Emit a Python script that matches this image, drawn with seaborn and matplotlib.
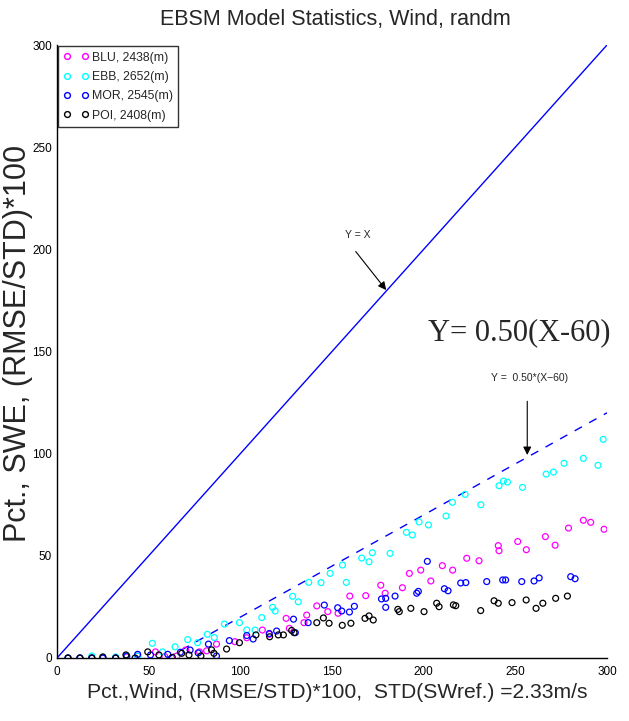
import numpy as np
import pandas as pd
import matplotlib
matplotlib.use("Agg")
import matplotlib.pyplot as plt
import seaborn as sns
from matplotlib.lines import Line2D

# ---------------- data ----------------
blu_x = [6, 12.5, 19, 25, 32, 38, 44, 53.7, 58.8, 65.4, 70.2, 77.7, 81.6, 87, 97, 103.5, 112, 115.8,
         125, 126.7, 134.7, 136.2, 141.7, 147.7, 153.3, 159.7, 168.4, 176.6, 179, 188.4, 192.2, 198.4,
         203.9, 210.2, 215.8, 223.5, 230.2, 240.7, 241.1, 251.3, 256, 266.4, 271.7, 279, 287.1, 291.1, 298.4]
blu_y = [0, 0, 0, 0, 0, 0.5, 1, 3, 0.7, 1, 3.9, 3, 3.5, 6.8, 8, 9.9, 13.7, 11.6,
         19.4, 14.5, 17.3, 21, 25.5, 22.7, 21.9, 30.3, 30.5, 35.6, 31.7, 34.4, 41.4, 43,
         37.7, 45.2, 43, 48.8, 47.6, 55, 52.5, 57, 53, 59.4, 55.2, 63.6, 67.4, 66.4, 63]

ebb_x = [6, 12.5, 19, 25, 32, 38, 44, 52, 57.5, 64.4, 71.3, 76.7, 82, 85.8, 91.3, 99.5, 103.5, 108,
         111.7, 117.6, 119, 128.5, 131.6, 137.3, 144, 149, 155.7, 157.8, 166.2, 170.2, 172, 181.7,
         190.6, 193.8, 197.5, 202.6, 212.2, 215.7, 222.6, 231.2, 241.1, 243.5, 245.7, 253.9, 266.8,
         270.8, 276.6, 287.1, 295.1, 297.9]
ebb_y = [0, 0, 1, 0.5, 0.5, 1, 1, 7.2, 3, 5.5, 9, 7.5, 11.6, 10, 16.6, 17.3, 13.7, 13.7,
         19.8, 24.8, 23, 30.2, 27.5, 37, 36.9, 41.4, 45.5, 37, 48.9, 47.1, 51.5, 51.2,
         61.5, 60.2, 66.6, 65.1, 69.5, 76.2, 80.1, 75, 84.3, 86.6, 86.1, 83.5, 90,
         91, 95.3, 97.7, 94.3, 107]

mor_x = [6, 12.5, 19, 25, 32, 38, 44, 51, 60.4, 67.3, 72.6, 77, 82.6, 87, 94, 103.5, 107, 115.8,
         119.8, 129, 130, 137, 145.8, 153.1, 155.3, 159.5, 162.2, 177, 179.3, 179.3, 184.4, 196.2,
         197.1, 202, 211.3, 213.3, 220.2, 223, 234.4, 243.1, 244.7, 253.5, 260.2, 263, 280.2, 282.6]
mor_y = [0, 0, 0, 0, 0, 1, 1.8, 1.5, 1.8, 2.8, 3.9, 2.5, 6.8, 1, 8.5, 11, 9.3, 12,
         13.2, 19, 12.4, 17.3, 25.9, 24.6, 23, 22.5, 25.3, 28.9, 29.2, 24.8, 30.3, 31.7,
         32.6, 47.3, 33.9, 32.9, 36.7, 36.9, 37.4, 38.2, 38.2, 37.4, 37.7, 39.2, 39.8, 38.8]

poi_x = [6, 12.5, 19, 25, 32, 37.6, 42.6, 49.5, 55.6, 62.9, 68, 72, 78.5, 84.3, 85.6, 92.5, 99.5,
         108.5, 116, 120.7, 123.5, 128, 129.3, 141.7, 145.3, 148.4, 155.6, 160.3, 168, 170.2, 172.5,
         185.9, 186.7, 193, 200.2, 207.1, 208.4, 216.2, 217.5, 231.1, 238.4, 240.7, 248.2, 255.9,
         261.3, 265, 272, 278.4]
poi_y = [0, 0, 0, 0.5, 0, 1.5, 0, 3, 1.5, 0.3, 2.3, 1.5, 1, 4, 2.3, 4.4, 7.5,
         11.3, 10.4, 11.3, 11.3, 13.5, 12.4, 17.3, 19.6, 17, 16, 17, 19.4, 20.6, 18.6,
         23.8, 22.7, 24.3, 22.7, 26.8, 25.1, 26, 25.6, 23.2, 28, 26.8, 27.1, 28.4,
         24.3, 26.8, 29.2, 30.3]

series_labels = ["BLU, 2438(m)", "EBB, 2652(m)", "MOR, 2545(m)", "POI, 2408(m)"]
series_colors = ["#ff00ff", "#00ffff", "#0000ff", "#000000"]

line1_x = [0, 300]
line1_y = [0, 300]
line2_x = [60, 300]
line2_y = [0, 120]

x_ticks = [0, 50, 100, 150, 200, 250, 300]
y_ticks = [0, 50, 100, 150, 200, 250, 300]

# ---------------- plot ----------------
sns.set_style("white")
plt.rcParams["font.family"] = ["Liberation Sans", "DejaVu Sans"]

fig = plt.figure(figsize=(6.29, 7.21), dpi=100)
ax = fig.add_axes([57 / 629, 1 - 658 / 721, 550 / 629, 613 / 721])

sns.lineplot(x=line1_x, y=line1_y, ax=ax, color="#0000ff", linewidth=1.0)
sns.lineplot(x=line2_x, y=line2_y, ax=ax, color="#0000ff", linewidth=1.0,
             linestyle=(0, (6, 6)))

data = [(blu_x, blu_y), (ebb_x, ebb_y), (mor_x, mor_y), (poi_x, poi_y)]
for (xs, ys), c in zip(data, series_colors):
    sns.scatterplot(x=xs, y=ys, ax=ax, marker="o", s=18, facecolors="none",
                    edgecolor=c, linewidth=0.9, zorder=3)

ax.set_xlim(0, 300)
ax.set_ylim(0, 300)
ax.set_xticks(x_ticks)
ax.set_yticks(y_ticks)
ax.tick_params(direction="in", length=5, width=0.8, labelsize=8.5, colors="black")
ax.tick_params(axis="x", pad=6)
for s in ["top", "right"]:
    ax.spines[s].set_visible(False)
for s in ["left", "bottom"]:
    ax.spines[s].set_color("black")
    ax.spines[s].set_linewidth(1.0)

fig.text(335 / 629, 1 - 19 / 721, "EBSM Model Statistics, Wind, randm", ha="center", va="center",
         fontsize=15.5)
ax.set_xlabel("Pct.,Wind, (RMSE/STD)*100,  STD(SWref.) =2.33m/s", fontsize=15.2)
ax.xaxis.set_label_coords(280 / 550, -(692 - 658) / 613)
ax.xaxis.label.set_va("center")
ax.set_ylabel("Pct., SWE, (RMSE/STD)*100", fontsize=22)
ax.yaxis.set_label_coords(-(57 - 18) / 550, (658 - 343) / 613)
ax.yaxis.label.set_va("center")

# annotations
ax.annotate("", xy=(180.5, 179), xytext=(162, 200),
            arrowprops=dict(arrowstyle="-|>", color="black", lw=0.8, mutation_scale=12))
ax.text(164, 207, "Y = X", fontsize=7.5, ha="center", va="center")
ax.annotate("", xy=(256.5, 98), xytext=(256.5, 127),
            arrowprops=dict(arrowstyle="-|>", color="black", lw=0.8, mutation_scale=12))
ax.text(258, 137, "Y =  0.50*(X\u221260)", fontsize=7.5, ha="center", va="center")
ax.text(252, 159, "Y= 0.50(X-60)", fontsize=22, ha="center", va="center",
        family=["Liberation Serif", "DejaVu Serif"], clip_on=False)

handles = [Line2D([], [], marker="o", linestyle="none", markerfacecolor="none",
                  markeredgecolor=c, markersize=4.2, markeredgewidth=1.0)
           for c in series_colors]
leg = ax.legend(handles, series_labels, loc="upper left", numpoints=2,
                frameon=True, fancybox=False, edgecolor="black", borderpad=0.45,
                labelspacing=0.6, handlelength=2.0, handletextpad=0.3,
                borderaxespad=0.1, prop={"size": 8.8})
leg.get_frame().set_linewidth(1.0)

fig.savefig("out.png", dpi=100)
